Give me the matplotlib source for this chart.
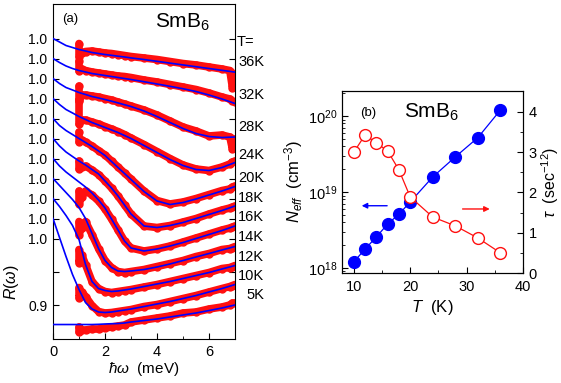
import matplotlib.pyplot as plt
import matplotlib.transforms as mtransforms

plt.rcParams['font.family'] = ['Liberation Sans', 'DejaVu Sans']
plt.rcParams['mathtext.fontset'] = 'custom'
plt.rcParams['mathtext.rm'] = 'Liberation Sans'
plt.rcParams['mathtext.it'] = 'Liberation Sans:italic'
plt.rcParams['mathtext.bf'] = 'Liberation Sans:bold'

# ---- panel (a): R(w) spectra, each shifted up by its offset ----
temps = ["36K", "32K", "28K", "24K", "20K", "18K", "16K", "14K", "12K", "10K", "5K"]
offsets = [0.30, 0.27, 0.24, 0.21, 0.18, 0.15, 0.12, 0.09, 0.06, 0.03, 0.0]

# fit curves (blue)
w_fit = [0, 0.25, 0.5, 0.75, 1, 1.25, 1.5, 1.75, 2, 2.25, 2.5, 2.75, 3, 3.5, 4, 4.5, 5, 5.5, 6, 6.5, 7]
fit_36K = [1.0, 0.9948, 0.9895, 0.9865, 0.9835, 0.9813, 0.979, 0.9775, 0.976, 0.9748, 0.9735, 0.9723, 0.9709, 0.9685, 0.9658, 0.9631, 0.9604, 0.9577, 0.955, 0.9523, 0.9496]
fit_32K = [1.0, 0.994, 0.9888, 0.985, 0.982, 0.9798, 0.9775, 0.976, 0.9745, 0.973, 0.9715, 0.97, 0.9685, 0.9652, 0.9618, 0.9583, 0.9547, 0.9505, 0.9453, 0.9393, 0.9325]
fit_28K = [1.0, 0.9925, 0.9865, 0.9828, 0.979, 0.976, 0.973, 0.9708, 0.9685, 0.966, 0.9634, 0.9607, 0.958, 0.9513, 0.943, 0.934, 0.925, 0.9175, 0.913, 0.9115, 0.9123]
fit_24K = [1.0, 0.991, 0.9835, 0.9783, 0.973, 0.9685, 0.964, 0.9603, 0.9565, 0.9528, 0.949, 0.9445, 0.94, 0.9295, 0.919, 0.9085, 0.8995, 0.8935, 0.892, 0.8965, 0.904]
fit_20K = [1.0, 0.9895, 0.982, 0.976, 0.97, 0.964, 0.958, 0.9513, 0.9445, 0.9355, 0.9265, 0.9175, 0.9085, 0.8905, 0.8763, 0.871, 0.874, 0.8793, 0.8853, 0.8913, 0.898]
fit_18K = [1.0, 0.9888, 0.9798, 0.973, 0.9663, 0.9603, 0.9535, 0.9468, 0.9363, 0.9258, 0.9138, 0.9003, 0.8868, 0.8688, 0.8665, 0.8695, 0.874, 0.88, 0.886, 0.892, 0.8988]
fit_16K = [1.0, 0.9888, 0.9798, 0.9723, 0.9648, 0.9573, 0.9483, 0.9378, 0.9258, 0.9093, 0.8928, 0.8763, 0.8658, 0.8613, 0.8643, 0.8688, 0.874, 0.88, 0.886, 0.892, 0.8988]
fit_14K = [1.0, 0.9895, 0.979, 0.9685, 0.9565, 0.94, 0.9175, 0.895, 0.877, 0.8665, 0.8613, 0.8605, 0.8613, 0.8635, 0.8673, 0.8718, 0.877, 0.8823, 0.8875, 0.8928, 0.898]
fit_12K = [1.0, 0.988, 0.9745, 0.9595, 0.9385, 0.901, 0.8755, 0.865, 0.862, 0.8605, 0.8613, 0.8628, 0.8643, 0.868, 0.8718, 0.8755, 0.88, 0.8845, 0.889, 0.8943, 0.8995]
fit_10K = [1.0, 0.9715, 0.943, 0.916, 0.8935, 0.874, 0.8643, 0.8598, 0.859, 0.8598, 0.8613, 0.8628, 0.8643, 0.868, 0.8718, 0.8755, 0.88, 0.8845, 0.8898, 0.895, 0.901]
fit_5K = [0.871, 0.871, 0.871, 0.871, 0.871, 0.871, 0.871, 0.8713, 0.8718, 0.8722, 0.8725, 0.8733, 0.8748, 0.877, 0.8793, 0.8823, 0.8853, 0.8883, 0.892, 0.8958, 0.9003]

# measured spectra (red)
w_data = [1.0, 1.0, 1.1, 1.25, 1.5, 1.75, 2.0, 2.25, 2.5, 2.75, 3.0, 3.5, 4.0, 4.5, 5.0, 5.5, 6.0, 6.5, 6.8, 6.9, 7.0]
data_36K = [0.9925, 0.973, 0.979, 0.9805, 0.9813, 0.9798, 0.9783, 0.9775, 0.976, 0.9745, 0.973, 0.9708, 0.9685, 0.9655, 0.9625, 0.9603, 0.9573, 0.9543, 0.952, 0.9265, 0.9475]
data_32K = [0.9963, 0.9813, 0.9843, 0.982, 0.9798, 0.9783, 0.9768, 0.9753, 0.9738, 0.973, 0.9715, 0.9678, 0.9648, 0.961, 0.9573, 0.9535, 0.9483, 0.9423, 0.9393, 0.9363, 0.9348]
data_28K = [0.9888, 0.9663, 0.9753, 0.9753, 0.9738, 0.9723, 0.97, 0.9678, 0.9648, 0.9618, 0.9588, 0.9528, 0.9453, 0.9363, 0.9273, 0.9213, 0.9138, 0.9153, 0.9123, 0.8943, 0.9093]
data_24K = [0.9978, 0.9618, 0.9678, 0.9678, 0.9648, 0.9618, 0.958, 0.9543, 0.9505, 0.946, 0.9408, 0.931, 0.9205, 0.91, 0.9003, 0.8943, 0.892, 0.8973, 0.9018, 0.9048, 0.9063]
data_20K = [0.9798, 0.9648, 0.9678, 0.9648, 0.9588, 0.952, 0.9453, 0.9363, 0.9273, 0.9183, 0.9093, 0.8913, 0.877, 0.8718, 0.8748, 0.88, 0.886, 0.892, 0.8943, 0.8973, 0.8988]
data_18K = [0.9663, 0.9543, 0.9573, 0.9588, 0.9528, 0.946, 0.9363, 0.9258, 0.9138, 0.9003, 0.8868, 0.8688, 0.8665, 0.8695, 0.8748, 0.88, 0.8868, 0.8928, 0.8958, 0.8973, 0.8988]
data_16K = [0.9513, 0.9318, 0.9423, 0.9513, 0.9453, 0.9363, 0.9243, 0.9093, 0.8928, 0.8763, 0.8658, 0.8613, 0.8643, 0.8688, 0.8748, 0.8808, 0.8868, 0.8928, 0.8958, 0.8973, 0.8988]
data_14K = [0.9355, 0.916, 0.9265, 0.9355, 0.916, 0.895, 0.877, 0.8665, 0.8605, 0.859, 0.8605, 0.8635, 0.868, 0.8725, 0.877, 0.883, 0.8875, 0.8935, 0.895, 0.8965, 0.898]
data_12K = [0.9235, 0.904, 0.916, 0.901, 0.8755, 0.865, 0.8605, 0.859, 0.8605, 0.862, 0.8635, 0.8673, 0.871, 0.8755, 0.88, 0.8845, 0.889, 0.895, 0.8965, 0.898, 0.8995]
data_10K = [0.8965, 0.8815, 0.8905, 0.883, 0.8695, 0.8605, 0.8583, 0.859, 0.8605, 0.862, 0.8635, 0.868, 0.871, 0.8755, 0.88, 0.8845, 0.8898, 0.895, 0.898, 0.8995, 0.901]
data_5K = [0.8673, 0.8598, 0.8628, 0.8628, 0.8643, 0.8643, 0.8658, 0.8673, 0.8688, 0.8703, 0.8748, 0.8778, 0.8808, 0.8838, 0.8883, 0.8898, 0.8943, 0.8973, 0.9003, 0.9033, 0.9033]

fits = [fit_36K, fit_32K, fit_28K, fit_24K, fit_20K, fit_18K, fit_16K, fit_14K, fit_12K, fit_10K, fit_5K]
datas = [data_36K, data_32K, data_28K, data_24K, data_20K, data_18K, data_16K, data_14K, data_12K, data_10K, data_5K]

# right-hand temperature labels (y in shifted R units)
label_y = [1.2648, 1.2153, 1.1673, 1.1253, 1.0908, 1.0608, 1.0323, 1.0023, 0.9723, 0.9438, 0.9153]
header_y = 1.2948

# ---- panel (b): N_eff and tau vs T ----
T_b = [10, 12, 14, 16, 18, 20, 24, 28, 32, 36]
n_eff = [1.2e18, 1.78e18, 2.56e18, 3.8e18, 5.1e18, 7.4e18, 1.58e19, 2.9e19, 5.2e19, 1.2e20]
tau = [3.0, 3.43, 3.23, 3.03, 2.56, 1.89, 1.39, 1.17, 0.87, 0.5]

fig = plt.figure(figsize=(5.61, 3.83), dpi=100)

# panel (a)
ax = fig.add_axes([0.0945, 0.1149, 0.3244, 0.8747])
for d, off in zip(datas, offsets):
    ax.plot(w_data, [v + off for v in d], color='#ff1010', lw=5.5, marker='o', ms=5,
            solid_capstyle='round', solid_joinstyle='round', zorder=2)
for f, off in zip(fits, offsets):
    ax.plot(w_fit, [v + off for v in f], color='#0000ff', lw=1.2, zorder=3)

ax.set_xlim(0, 7)
ax.set_ylim(0.8493, 1.3518)
ax.set_xticks([0, 2, 4, 6])
ax.set_xticks([1, 3, 5, 7], minor=True)
yt = [0.9, 0.95] + sorted(1.0 + o for o in offsets)
ax.set_yticks(yt)
ax.set_yticklabels(['0.9', ''] + ['1.0'] * len(offsets))
ax.tick_params(axis='both', which='both', direction='in', right=True)
ax.tick_params(axis='both', which='major', length=4)
ax.tick_params(axis='both', which='minor', length=2.5)
ax.tick_params(axis='y', labelsize=10, pad=4)
ax.tick_params(axis='x', labelsize=10.5, pad=4)
ax.set_xlabel(r'$\hbar\omega$  (meV)', fontsize=11, labelpad=1)
ax.set_ylabel(r'$R(\omega)$', fontsize=11.5)
ax.yaxis.set_label_coords(-0.175, 0.17)

trans = mtransforms.blended_transform_factory(ax.transAxes, ax.transData)
ax.text(1.011, header_y, 'T=', transform=trans, ha='left', va='center', fontsize=10.5)
for lab, y in zip(temps, label_y):
    ax.text(1.16, y, lab, transform=trans, ha='right', va='center', fontsize=10.5)
ax.text(0.05, 0.955, '(a)', transform=ax.transAxes, fontsize=9.5, va='center')
ax.text(0.56, 0.945, r'SmB$_6$', transform=ax.transAxes, fontsize=15, va='center')

# panel (b)
axb = fig.add_axes([0.6096, 0.2872, 0.3226, 0.4752])
axb.semilogy(T_b, n_eff, color='#0000ff', lw=0.9, marker='o', ms=8.5, mfc='#0000ff', mec='#0000ff', zorder=3)
axb.set_xlim(7.9, 40)
axb.set_ylim(10 ** 17.934, 10 ** 20.33)
axb.set_xticks([10, 20, 30, 40])
axb.set_xticks([15, 25, 35], minor=True)
axb.tick_params(axis='both', which='both', direction='in', labelsize=10.5)
axb.tick_params(axis='both', which='major', length=4)
axb.tick_params(axis='both', which='minor', length=2)
axb.tick_params(axis='x', pad=5)
axb.set_xlabel(r'$T$  (K)', fontsize=12, labelpad=3)
axb.set_ylabel(r'$N_{eff}$  (cm$^{-3}$)', fontsize=12, labelpad=2)

axt = axb.twinx()
axt.plot(T_b, tau, color='#ff1010', lw=0.9, marker='o', ms=8.5, mfc='white', mec='#ff1010', mew=1.0)
axt.set_ylim(0, 4.52)
axt.set_yticks([0, 1, 2, 3, 4])
axt.set_yticks([0.5, 1.5, 2.5, 3.5], minor=True)
axt.tick_params(axis='y', which='both', direction='in', labelsize=10.5, pad=4)
axt.tick_params(axis='y', which='major', length=4)
axt.tick_params(axis='y', which='minor', length=2)
axt.set_ylabel(r'$\tau$  (sec$^{-12}$)', fontsize=11.5, labelpad=2)

axb.annotate('', xy=(10.9, 6.6e18), xytext=(16.4, 6.6e18),
             arrowprops=dict(arrowstyle='-|>', color='#0000ff', lw=1.0, mutation_scale=8))
axt.annotate('', xy=(34.6, 1.59), xytext=(28.8, 1.59),
             arrowprops=dict(arrowstyle='-|>', color='#ff1010', lw=1.0, mutation_scale=8))
axb.text(0.1, 0.88, '(b)', transform=axb.transAxes, fontsize=9.5, va='center')
axb.text(0.34, 0.88, r'SmB$_6$', transform=axb.transAxes, fontsize=15, va='center')

fig.savefig('out.png', dpi=100)
